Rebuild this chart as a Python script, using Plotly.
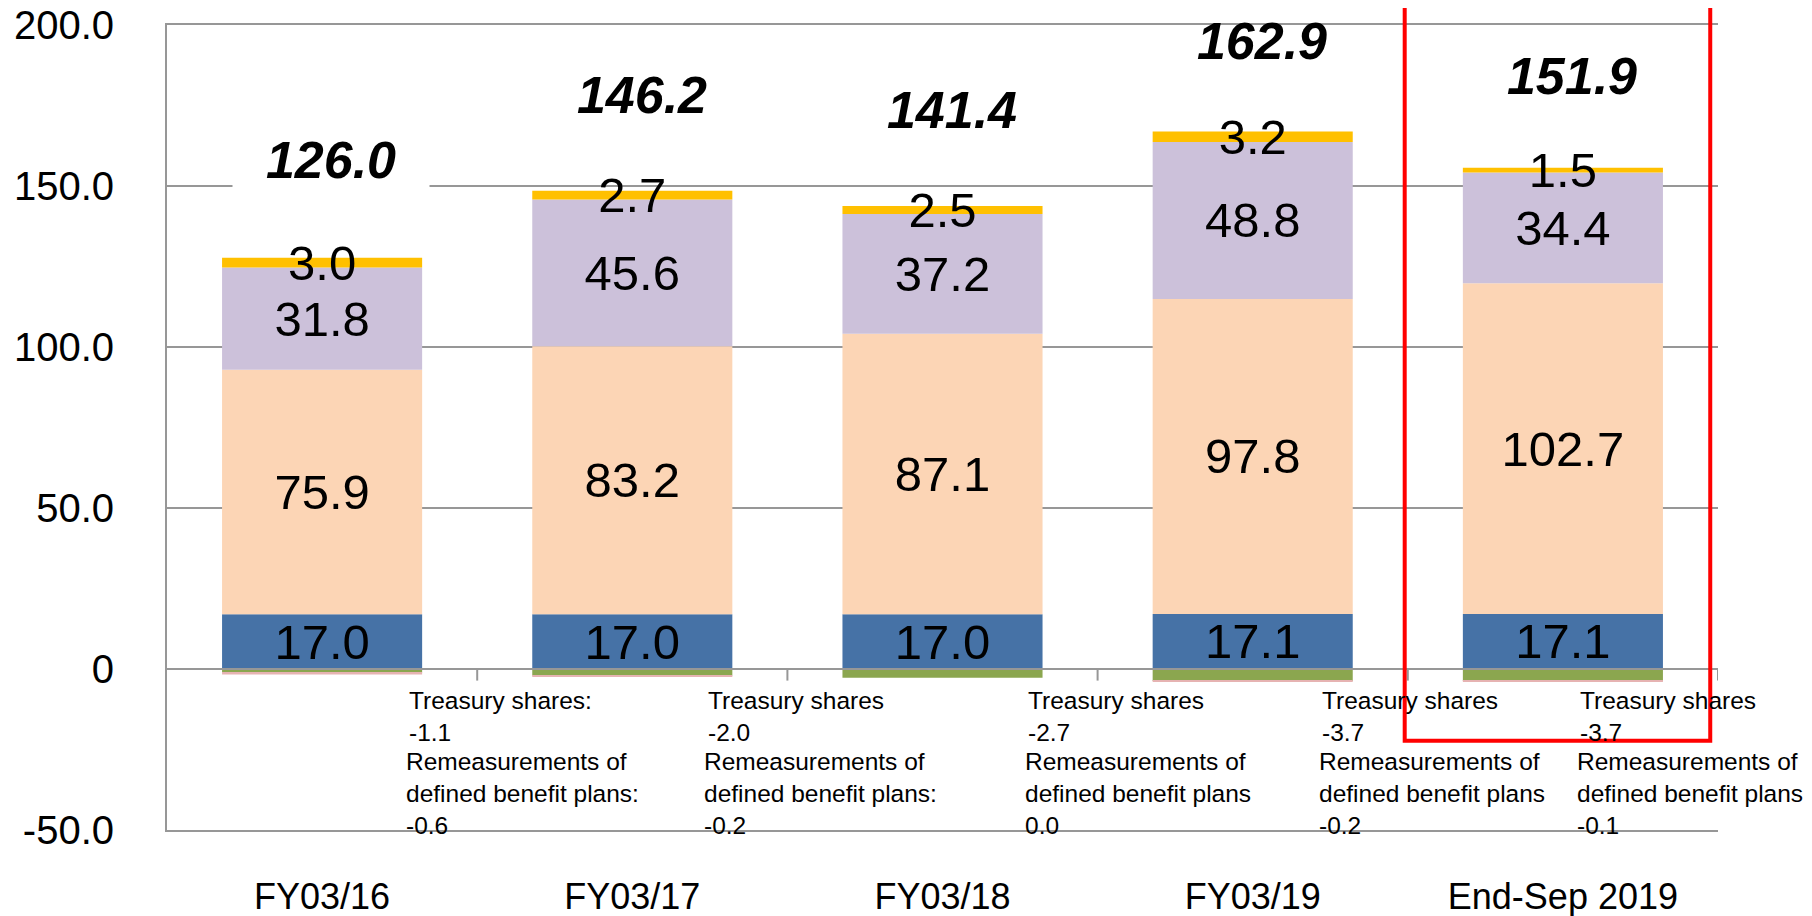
import plotly.graph_objects as go

# data (billion yen)
categories = ["FY03/16", "FY03/17", "FY03/18", "FY03/19", "End-Sep 2019"]
capital = [17.0, 17.0, 17.0, 17.1, 17.1]
retained = [75.9, 83.2, 87.1, 97.8, 102.7]
surplus = [31.8, 45.6, 37.2, 48.8, 34.4]
other_comp = [3.0, 2.7, 2.5, 3.2, 1.5]
treasury = [-1.1, -2.0, -2.7, -3.7, -3.7]
remeasure = [-0.6, -0.2, 0.0, -0.2, -0.1]
totals = [126.0, 146.2, 141.4, 162.9, 151.9]

treasury_head = ["Treasury shares:", "Treasury shares", "Treasury shares", "Treasury shares", "Treasury shares"]
remeasure_head = ["defined benefit plans:", "defined benefit plans:", "defined benefit plans",
                  "defined benefit plans", "defined benefit plans"]

y_ticks = [-50, 0, 50, 100, 150, 200]
y_ticktext = ["-50.0", "0", "50.0", "100.0", "150.0", "200.0"]

# layout helpers (positions of the note blocks relative to each category)
note_dx = [0.275, 0.236, 0.268, 0.218, 0.049]

FONT = "Arial, Liberation Sans, sans-serif"
GRID = "#979797"
x = list(range(len(categories)))

fig = go.Figure()

stack = [
    (capital, "#4672A6", True),
    (retained, "#FCD5B5", True),
    (surplus, "#CCC1DA", True),
    (other_comp, "#FFC000", True),
    (treasury, "#8BA64F", False),
    (remeasure, "#E6B3B2", False),
]
for vals, col, labelled in stack:
    fig.add_trace(go.Bar(
        x=x, y=vals, width=0.645,
        marker=dict(color=col, line=dict(width=0)),
        text=[f"{v:.1f}" for v in vals] if labelled else None,
        textposition="inside" if labelled else "none",
        insidetextanchor="middle", textangle=0, constraintext="none",
        textfont=dict(family=FONT, size=49, color="black"),
        showlegend=False, hoverinfo="skip",
    ))

# totals above each bar (white backing hides the gridline behind it)
for i in x:
    ylab = totals[i] + 32.5
    fig.add_annotation(
        x=i + 0.03, y=ylab, yanchor="top", yshift=29, valign="top", height=80, width=196,
        borderpad=0, text=f"<b><i>{totals[i]:.1f}</i></b>", showarrow=False,
        bgcolor="white" if ylab < 190 else "rgba(0,0,0,0)",
        font=dict(family=FONT, size=52, color="black"),
    )

# notes about the negative components
for i in x:
    fig.add_annotation(
        x=i + note_dx[i], y=-5, xanchor="left", yanchor="top", align="left",
        text=f"{treasury_head[i]}<br>{treasury[i]:.1f}", showarrow=False,
        font=dict(family=FONT, size=24.5, color="black"),
    )
    fig.add_annotation(
        x=i + note_dx[i] - 0.01, y=-24, xanchor="left", yanchor="top", align="left",
        text=f"Remeasurements of<br>{remeasure_head[i]}<br>{remeasure[i]:.1f}", showarrow=False,
        font=dict(family=FONT, size=24.5, color="black"),
    )

# zero line drawn over the bars, plus small category ticks on it
fig.add_shape(type="line", xref="paper", x0=0, x1=1, y0=0, y1=0,
              line=dict(color=GRID, width=2), layer="above")
for i in x:
    fig.add_shape(type="line", x0=i + 0.5, x1=i + 0.5, y0=0, y1=-3.6,
                  line=dict(color=GRID, width=2), layer="above")

# red highlight box around the latest period
fig.add_shape(type="rect", xref="x", yref="paper", x0=3.49, x1=4.475, y0=0.111, y1=1.06,
              line=dict(color="#FF0000", width=4), layer="above")

fig.update_layout(
    barmode="relative",
    width=1804, height=908,
    margin=dict(l=159, r=94, t=17, b=86),
    plot_bgcolor="white", paper_bgcolor="white",
    font=dict(family=FONT, color="black"),
    xaxis=dict(
        tickvals=x, ticktext=categories, range=[-0.5, 4.5],
        showgrid=False, showline=True, mirror=True, linecolor=GRID, linewidth=2,
        zeroline=False, ticks="",
        tickfont=dict(size=36), ticklabelstandoff=34, automargin=False,
        ticklabeloverflow="allow",
    ),
    yaxis=dict(
        range=[-50, 200], tickvals=y_ticks, ticktext=y_ticktext,
        showgrid=True, gridcolor=GRID, gridwidth=2,
        zeroline=False,
        showline=True, linecolor=GRID, linewidth=2, ticks="",
        tickfont=dict(size=40), ticklabelstandoff=43, automargin=False,
        ticklabeloverflow="allow",
    ),
)

fig.write_html("out.html")
